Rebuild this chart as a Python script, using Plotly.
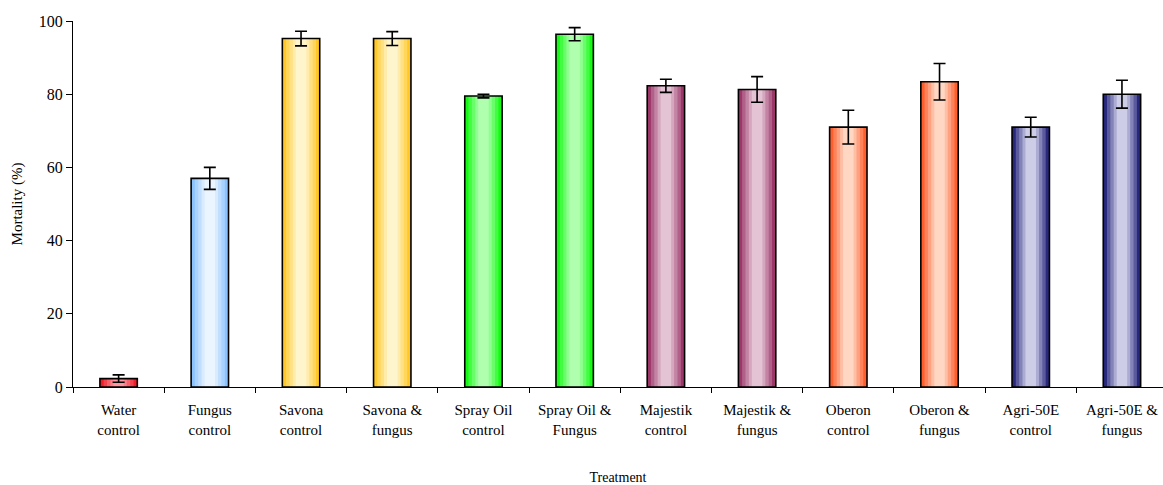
import plotly.graph_objects as go

categories = ["Water<br>control", "Fungus<br>control", "Savona<br>control", "Savona &<br>fungus",
              "Spray Oil<br>control", "Spray Oil &<br>Fungus", "Majestik<br>control", "Majestik &<br>fungus",
              "Oberon<br>control", "Oberon &<br>fungus", "Agri-50E<br>control", "Agri-50E &<br>fungus"]
mortality = [2.3, 57.0, 95.2, 95.2, 79.5, 96.4, 82.3, 81.3, 71.0, 83.4, 71.0, 80.0]
errors = [1.0, 3.0, 2.0, 1.9, 0.5, 1.8, 1.8, 3.5, 4.6, 5.0, 2.7, 3.8]

edge_colors = [(240, 30, 40), (140, 195, 255), (255, 200, 40), (255, 200, 40),
               (20, 250, 20), (20, 250, 20), (155, 55, 105), (155, 55, 105),
               (255, 95, 45), (255, 95, 45), (40, 40, 125), (40, 40, 125)]
center_colors = [(255, 150, 160), (235, 245, 255), (255, 245, 205), (255, 245, 205),
                 (175, 255, 175), (175, 255, 175), (228, 195, 212), (228, 195, 212),
                 (255, 215, 195), (255, 215, 195), (205, 205, 232), (205, 205, 232)]

BAR_W = 0.41
fracs = [1.0, 0.8, 0.62, 0.44, 0.28]
ts = [0.0, 0.3, 0.55, 0.8, 1.0]


def mix(a, b, t):
    return "rgb(%d,%d,%d)" % tuple(round(a[i] + (b[i] - a[i]) * t) for i in range(3))


fig = go.Figure()
for f, t in zip(fracs, ts):
    fig.add_trace(go.Bar(
        x=categories, y=mortality, width=BAR_W * f,
        marker=dict(color=[mix(e, c, t) for e, c in zip(edge_colors, center_colors)], line=dict(width=0)),
        showlegend=False, hoverinfo="skip"))
# outline
fig.add_trace(go.Bar(
    x=categories, y=mortality, width=BAR_W,
    marker=dict(color="rgba(0,0,0,0)", line=dict(color="black", width=1.6)),
    showlegend=False))
# error bars
fig.add_trace(go.Scatter(
    x=categories, y=mortality, mode="markers",
    marker=dict(size=1, opacity=0),
    error_y=dict(type="data", array=errors, visible=True, color="black", thickness=1.6, width=6),
    showlegend=False, hoverinfo="skip"))

font_family = "Liberation Serif, Times New Roman, serif"
fig.update_layout(
    width=1163, height=485,
    margin=dict(l=73, r=0, t=21, b=98),
    barmode="overlay",
    plot_bgcolor="white", paper_bgcolor="white",
    font=dict(family=font_family, size=15, color="black"),
)
fig.update_xaxes(
    range=[-0.5, 11.45],
    showline=True, linecolor="black", linewidth=1.2,
    ticks="outside", tickson="boundaries", ticklen=5, tickcolor="black",
    showgrid=False, ticklabelstandoff=9,
    title=dict(text="Treatment", font=dict(size=14), standoff=38),
)
fig.update_yaxes(
    range=[0, 100], dtick=20, showline=True, linecolor="black", linewidth=1.2,
    ticks="outside", ticklen=6, tickcolor="black", showgrid=False, zeroline=False,
    tickfont=dict(size=16),
    title=dict(text="Mortality (%)", font=dict(size=15), standoff=12),
)
fig.write_html("out.html")
